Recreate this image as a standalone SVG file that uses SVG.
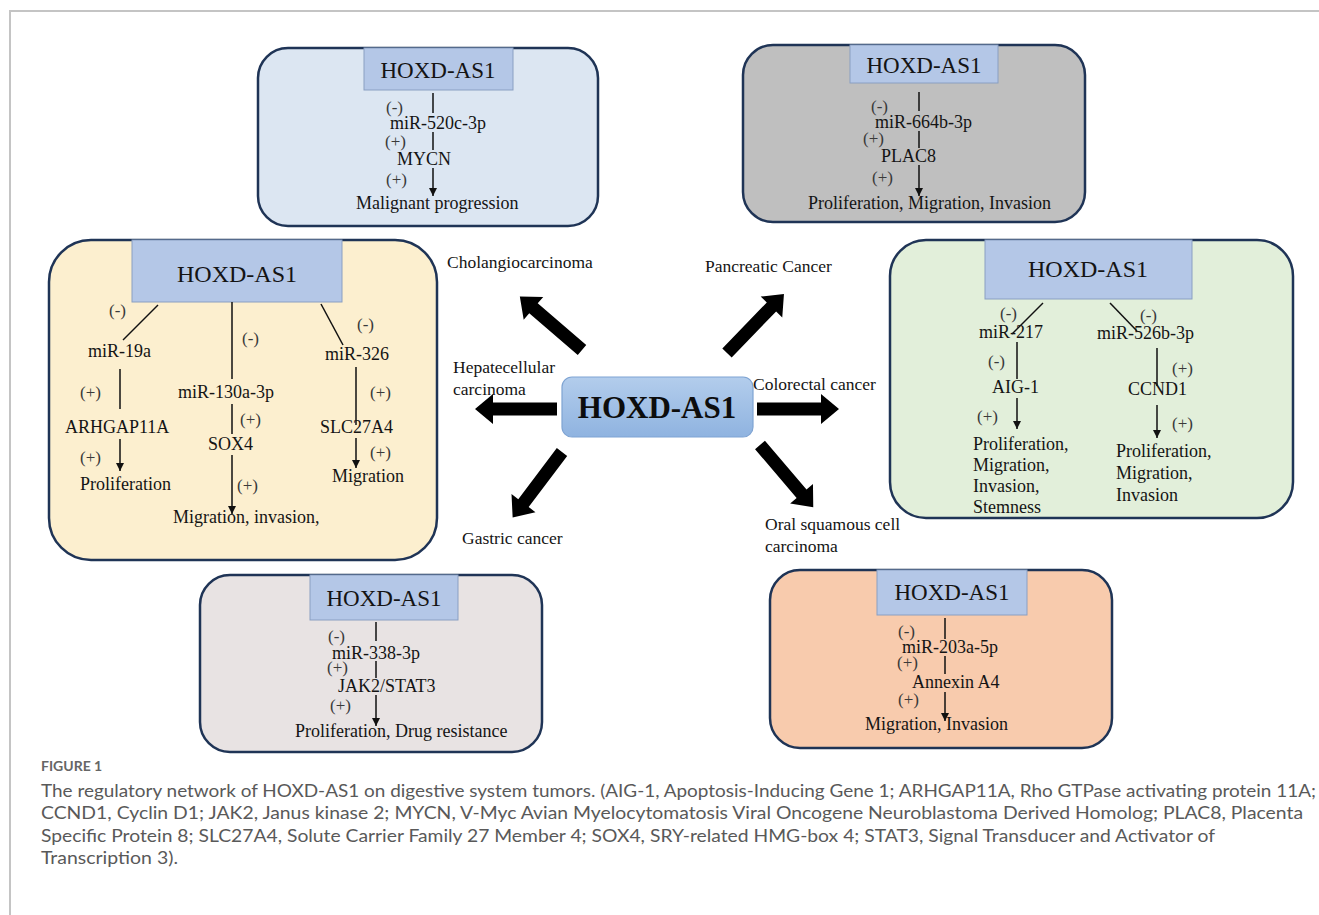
<svg xmlns="http://www.w3.org/2000/svg" xmlns:xlink="http://www.w3.org/1999/xlink" width="1319" height="915" viewBox="0 0 1319 915">
<style>
.t{font-family:"Liberation Serif","Times New Roman",serif;font-size:18px;fill:#141414}
.s{font-family:"Liberation Serif","Times New Roman",serif;font-size:17px;fill:#3a3a3a}
.h{font-family:"Liberation Serif","Times New Roman",serif;font-size:23px;fill:#141414;text-anchor:middle}
.lb{font-family:"Liberation Serif","Times New Roman",serif;font-size:17.5px;fill:#141414}
.box{stroke:#1f3456;stroke-width:2.5}
.hdr{fill:#b4c7e7;stroke:#8a9fc2;stroke-width:1}
.ln{stroke:#111;stroke-width:1.5;fill:none}
.ar{stroke:#111;stroke-width:1.5;fill:none;marker-end:url(#ah)}
.cap{font-family:Lato,"Open Sans",sans-serif;font-size:17px;fill:#595959}
</style>
<defs>
<marker id="ah" viewBox="0 0 10 10" refX="10" refY="5" markerWidth="8" markerHeight="9" markerUnits="userSpaceOnUse" orient="auto"><path d="M0,0 L10,5 L0,10 Z" fill="#111"/></marker>
<path id="blk" d="M0,-6.5 H64 V-15 L82,0 L64,15 V6.5 H0 Z" fill="#000"/>
<linearGradient id="cg" x1="0" y1="0" x2="0" y2="1"><stop offset="0" stop-color="#b3cdec"/><stop offset="1" stop-color="#8fb3e0"/></linearGradient>
</defs>
<rect width="1319" height="915" fill="#fff"/>
<path d="M10,915 V11 H1319" fill="none" stroke="#c4c4c4" stroke-width="2"/>

<g id="center">
<rect x="562" y="377" width="191" height="60" rx="10" fill="url(#cg)" stroke="#7fa4d3" stroke-width="1.2"/>
<text x="657" y="418" text-anchor="middle" style="font-family:'Liberation Serif',serif;font-weight:bold;font-size:31px;fill:#0d0d0d">HOXD-AS1</text>
</g>

<g id="connectors">
<use href="#blk" transform="translate(582,350) rotate(220.7)"/>
<use href="#blk" transform="translate(727,353) rotate(-46)"/>
<use href="#blk" transform="translate(557,409) rotate(180)"/>
<use href="#blk" transform="translate(757,409)"/>
<use href="#blk" transform="translate(562,452) rotate(127)"/>
<use href="#blk" transform="translate(760,445) rotate(49.5)"/>
</g>

<g id="labels">
<text class="lb" x="447" y="268">Cholangiocarcinoma</text>
<text class="lb" x="705" y="272">Pancreatic Cancer</text>
<text class="lb" x="453" y="373">Hepatecellular</text>
<text class="lb" x="453" y="395">carcinoma</text>
<text class="lb" x="753" y="390">Colorectal cancer</text>
<text class="lb" x="462" y="544">Gastric cancer</text>
<text class="lb" x="765" y="530">Oral squamous cell</text>
<text class="lb" x="765" y="552">carcinoma</text>
</g>

<g id="box-cholangio">
<rect class="box" x="258" y="48" width="340" height="178" rx="30" fill="#dce6f2"/>
<rect class="hdr" x="364" y="48" width="149" height="42"/>
<text class="h" x="438" y="78">HOXD-AS1</text>
<line class="ln" x1="433" y1="93" x2="433" y2="113"/>
<text class="s" x="386" y="113">(-)</text>
<text class="t" x="390" y="129">miR-520c-3p</text>
<line class="ln" x1="433" y1="132" x2="433" y2="150"/>
<text class="s" x="385" y="147">(+)</text>
<text class="t" x="397" y="165">MYCN</text>
<line class="ar" x1="433" y1="168" x2="433" y2="196"/>
<text class="s" x="386" y="185">(+)</text>
<text class="t" x="356" y="209">Malignant progression</text>
</g>

<g id="box-pancreatic">
<rect class="box" x="743" y="45" width="342" height="177" rx="30" fill="#bfbfbf"/>
<rect class="hdr" x="850" y="45" width="148" height="38"/>
<text class="h" x="924" y="73">HOXD-AS1</text>
<line class="ln" x1="919" y1="92" x2="919" y2="111"/>
<text class="s" x="871" y="112">(-)</text>
<text class="t" x="875" y="128">miR-664b-3p</text>
<line class="ln" x1="919" y1="131" x2="919" y2="148"/>
<text class="s" x="863" y="144">(+)</text>
<text class="t" x="881" y="162">PLAC8</text>
<line class="ar" x1="919" y1="165" x2="919" y2="196"/>
<text class="s" x="872" y="183">(+)</text>
<text class="t" x="808" y="209">Proliferation, Migration, Invasion</text>
</g>

<g id="box-hepatocellular">
<rect class="box" x="49" y="240" width="388" height="320" rx="42" fill="#fcefcf"/>
<rect class="hdr" x="132" y="240" width="210" height="62"/>
<text class="h" x="237" y="282" style="font-size:24px">HOXD-AS1</text>
<line class="ln" x1="158" y1="305" x2="123" y2="340"/>
<text class="s" x="109" y="316">(-)</text>
<text class="t" x="88" y="357">miR-19a</text>
<line class="ln" x1="120" y1="369" x2="120" y2="409"/>
<text class="s" x="80" y="398">(+)</text>
<text class="t" x="65" y="433">ARHGAP11A</text>
<line class="ar" x1="120" y1="439" x2="120" y2="471"/>
<text class="s" x="80" y="463">(+)</text>
<text class="t" x="80" y="490">Proliferation</text>
<line class="ln" x1="232" y1="302" x2="232" y2="379"/>
<text class="s" x="242" y="344">(-)</text>
<text class="t" x="178" y="398">miR-130a-3p</text>
<line class="ln" x1="232" y1="404" x2="232" y2="434"/>
<text class="s" x="240" y="425">(+)</text>
<text class="t" x="208" y="450">SOX4</text>
<line class="ar" x1="232" y1="455" x2="232" y2="514"/>
<text class="s" x="237" y="491">(+)</text>
<text class="t" x="173" y="523">Migration, invasion,</text>
<line class="ln" x1="321" y1="304" x2="343" y2="345"/>
<text class="s" x="357" y="330">(-)</text>
<text class="t" x="325" y="360">miR-326</text>
<line class="ln" x1="356" y1="367" x2="356" y2="425"/>
<text class="s" x="370" y="398">(+)</text>
<text class="t" x="320" y="433">SLC27A4</text>
<line class="ar" x1="356" y1="438" x2="356" y2="468"/>
<text class="s" x="370" y="458">(+)</text>
<text class="t" x="332" y="482">Migration</text>
</g>

<g id="box-colorectal">
<rect class="box" x="890" y="240" width="403" height="278" rx="36" fill="#e2efda"/>
<rect class="hdr" x="985" y="240" width="207" height="59"/>
<text class="h" x="1088" y="277" style="font-size:24px">HOXD-AS1</text>
<line class="ln" x1="1043" y1="303" x2="1012" y2="334"/>
<text class="s" x="1000" y="319">(-)</text>
<text class="t" x="979" y="338">miR-217</text>
<line class="ln" x1="1017" y1="342" x2="1017" y2="379"/>
<text class="s" x="988" y="367">(-)</text>
<text class="t" x="992" y="393">AIG-1</text>
<line class="ar" x1="1017" y1="398" x2="1017" y2="429"/>
<text class="s" x="977" y="422">(+)</text>
<text class="t" x="973" y="450">Proliferation,</text>
<text class="t" x="973" y="471">Migration,</text>
<text class="t" x="973" y="492">Invasion,</text>
<text class="t" x="973" y="513">Stemness</text>
<line class="ln" x1="1110" y1="303" x2="1137" y2="331"/>
<text class="s" x="1140" y="321">(-)</text>
<text class="t" x="1097" y="339">miR-526b-3p</text>
<line class="ln" x1="1157" y1="348" x2="1157" y2="386"/>
<text class="s" x="1172" y="374">(+)</text>
<text class="t" x="1128" y="395">CCND1</text>
<line class="ar" x1="1157" y1="405" x2="1157" y2="438"/>
<text class="s" x="1172" y="429">(+)</text>
<text class="t" x="1116" y="457">Proliferation,</text>
<text class="t" x="1116" y="479">Migration,</text>
<text class="t" x="1116" y="501">Invasion</text>
</g>

<g id="box-gastric">
<rect class="box" x="200" y="575" width="342" height="177" rx="30" fill="#e8e3e3"/>
<rect class="hdr" x="310" y="575" width="148" height="45"/>
<text class="h" x="384" y="606">HOXD-AS1</text>
<line class="ln" x1="376" y1="622" x2="376" y2="641"/>
<text class="s" x="328" y="642">(-)</text>
<text class="t" x="332" y="659">miR-338-3p</text>
<line class="ln" x1="376" y1="661" x2="376" y2="678"/>
<text class="s" x="327" y="673">(+)</text>
<text class="t" x="338" y="692">JAK2/STAT3</text>
<line class="ar" x1="376" y1="695" x2="376" y2="726"/>
<text class="s" x="330" y="711">(+)</text>
<text class="t" x="295" y="737">Proliferation, Drug resistance</text>
</g>

<g id="box-oral">
<rect class="box" x="770" y="570" width="342" height="178" rx="30" fill="#f8cbad"/>
<rect class="hdr" x="877" y="570" width="150" height="45"/>
<text class="h" x="952" y="600">HOXD-AS1</text>
<line class="ln" x1="945" y1="618" x2="945" y2="639"/>
<text class="s" x="898" y="637">(-)</text>
<text class="t" x="902" y="653">miR-203a-5p</text>
<line class="ln" x1="945" y1="656" x2="945" y2="674"/>
<text class="s" x="897" y="668">(+)</text>
<text class="t" x="912" y="688">Annexin A4</text>
<line class="ar" x1="945" y1="692" x2="945" y2="721"/>
<text class="s" x="898" y="705">(+)</text>
<text class="t" x="865" y="730">Migration, Invasion</text>
</g>

<g id="caption">
<text class="cap" x="41" y="771" style="font-size:14px;font-weight:bold;fill:#666">FIGURE 1</text>
<text class="cap" x="41" y="797" textLength="1275" lengthAdjust="spacingAndGlyphs">The regulatory network of HOXD-AS1 on digestive system tumors. (AIG-1, Apoptosis-Inducing Gene 1; ARHGAP11A, Rho GTPase activating protein 11A;</text>
<text class="cap" x="41" y="819" textLength="1262" lengthAdjust="spacingAndGlyphs">CCND1, Cyclin D1; JAK2, Janus kinase 2; MYCN, V-Myc Avian Myelocytomatosis Viral Oncogene Neuroblastoma Derived Homolog; PLAC8, Placenta</text>
<text class="cap" x="41" y="842" textLength="1174" lengthAdjust="spacingAndGlyphs">Specific Protein 8; SLC27A4, Solute Carrier Family 27 Member 4; SOX4, SRY-related HMG-box 4; STAT3, Signal Transducer and Activator of</text>
<text class="cap" x="41" y="864" textLength="137" lengthAdjust="spacingAndGlyphs">Transcription 3).</text>
</g>
</svg>
